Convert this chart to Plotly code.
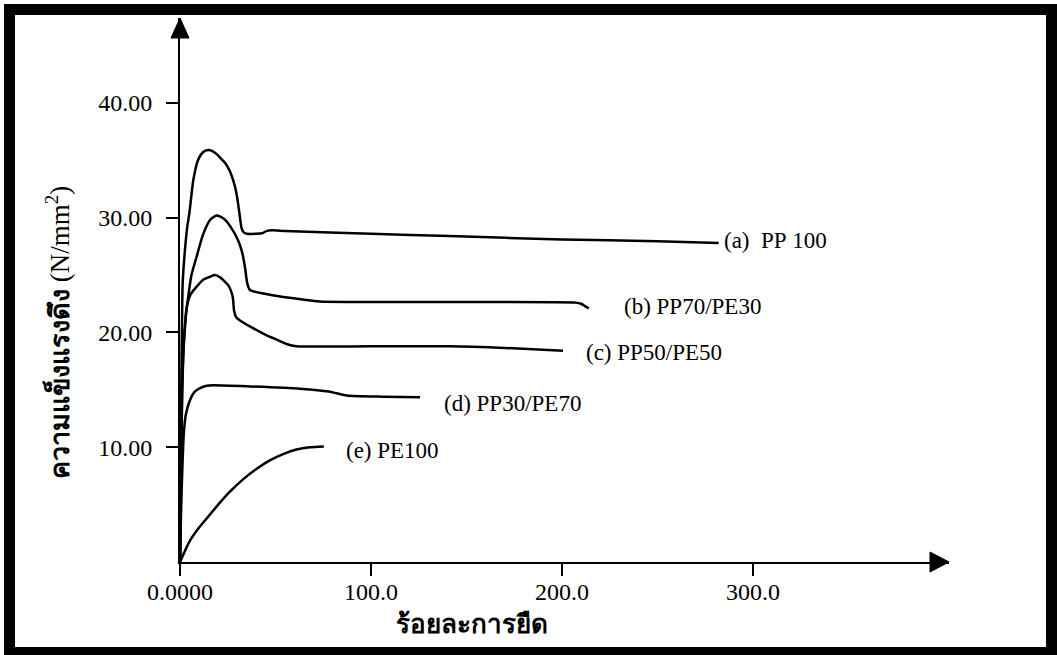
import plotly.graph_objects as go

# ---- data ----
x_a = [0, 0.3, 0.7, 1.0, 1.4, 2.6, 3.8, 4.9, 7.0, 9.4, 12, 14.8, 17, 19.5, 22, 23.5, 25, 26.5, 28.8, 30.0, 31.1, 32.3, 33.5, 35, 40, 43, 45.5, 48, 55, 100, 141, 200, 250, 282]
y_a = [0, 8, 16, 20, 24.3, 27.2, 29.2, 30.4, 33.3, 35.0, 35.7, 35.9, 35.8, 35.5, 35.05, 34.8, 34.4, 33.9, 32.7, 31.7, 30.4, 29.05, 28.7, 28.6, 28.6, 28.65, 28.85, 28.9, 28.85, 28.6, 28.4, 28.1, 27.95, 27.8]

x_b = [0, 0.4, 1.0, 1.8, 3.0, 4.3, 6.0, 8.7, 12, 15.7, 19.2, 23, 26.5, 30.5, 32.5, 34, 35.2, 36.6, 45, 54, 65, 73, 141, 207, 210, 212, 214]
y_b = [0, 7, 14, 18.5, 21.3, 23.1, 25, 26.6, 28.5, 29.8, 30.2, 29.9, 29.2, 28.0, 27.0, 25.7, 24.3, 23.7, 23.35, 23.1, 22.85, 22.7, 22.65, 22.6, 22.5, 22.3, 22.1]

x_c = [0, 0.5, 1.2, 2.0, 3.5, 5.5, 8.7, 12.2, 15.7, 18.3, 21, 25.3, 27.6, 28.3, 29.5, 31.4, 38, 45.4, 51, 55.8, 61, 100, 141, 170, 200.5]
y_c = [0, 8, 15, 19, 22.2, 23.3, 24.0, 24.6, 24.85, 25.0, 24.8, 24.1, 23.1, 21.9, 21.3, 21.05, 20.4, 19.75, 19.35, 19.0, 18.8, 18.8, 18.8, 18.65, 18.4]

x_d = [0, 0.5, 1.2, 2.0, 3.0, 5.2, 7.5, 10.5, 14, 17.5, 36.6, 62.8, 78, 82, 87.3, 106.4, 125.7]
y_d = [0, 4, 8, 11.2, 12.8, 14.1, 14.8, 15.15, 15.35, 15.4, 15.3, 15.1, 14.85, 14.7, 14.5, 14.4, 14.35]

x_e = [0, 2, 5, 10, 15, 20, 26, 33, 40, 47, 54, 61, 68, 75.3]
y_e = [0, 0.75, 1.8, 3.0, 4.0, 5.0, 6.1, 7.2, 8.1, 8.85, 9.4, 9.8, 10.0, 10.07]

series_labels = ["(a)\u00a0 PP\u00a0100", "(b) PP70/PE30", "(c) PP50/PE50", "(d) PP30/PE70", "(e) PE100"]
label_shift_x = [3, 33, 21, 22, 20]
label_shift_y = [2, 2, -2, -6, -4]

x_tickvals = [0, 100, 200, 300]
x_ticktext = ["0.0000", "100.0", "200.0", "300.0"]
y_tickvals = [10, 20, 30, 40]
y_ticktext = ["10.00", "20.00", "30.00", "40.00"]

x_title = "<b>ร้อยละการยืด</b>"
y_title = "<b>ความแข็งแรงดึง</b> (N/mm<sup>2</sup>)"

# ---- layout geometry ----
W, H = 1057, 655
L, R, T, B = 180, 108, 18, 93
PW, PH = W - L - R, H - T - B

def px(xp):
    return (xp - L) / PW

def py(yp):
    return (H - B - yp) / PH

SERIF = "Liberation Serif, Times New Roman, serif"

fig = go.Figure()
xs = [x_a, x_b, x_c, x_d, x_e]
ys = [y_a, y_b, y_c, y_d, y_e]
for xv, yv, name in zip(xs, ys, series_labels):
    fig.add_trace(go.Scatter(x=xv, y=yv, mode="lines", name=name,
                             line=dict(color="black", width=2.5, shape="spline", smoothing=0.6),
                             showlegend=False, hoverinfo="skip"))

annotations = []
for xv, yv, name, sx, sy in zip(xs, ys, series_labels, label_shift_x, label_shift_y):
    annotations.append(dict(x=xv[-1], y=yv[-1], xref="x", yref="y", text=name,
                            showarrow=False, xanchor="left", yanchor="middle",
                            xshift=sx, yshift=sy,
                            font=dict(family=SERIF, size=23, color="black")))

annotations.append(dict(x=px(472), y=py(624), xref="paper", yref="paper", text=x_title,
                        showarrow=False, xanchor="center", yanchor="middle",
                        font=dict(family=SERIF, size=26, color="black")))
annotations.append(dict(x=px(58), y=py(333), xref="paper", yref="paper", text=y_title,
                        showarrow=False, xanchor="center", yanchor="middle", textangle=-90,
                        font=dict(family=SERIF, size=27, color="black")))

shapes = [
    # outer black frame
    dict(type="rect", xref="paper", yref="paper",
         x0=px(9.5), x1=px(1051.5), y0=py(652.5), y1=py(9.5),
         line=dict(color="black", width=11), fillcolor="rgba(0,0,0,0)", layer="above"),
    # y-axis arrow head
    dict(type="path", xref="paper", yref="paper", xsizemode="pixel", ysizemode="pixel",
         xanchor=0, yanchor=1, path="M -9,-20 L 9,-20 L 0,0 Z",
         fillcolor="black", line=dict(color="black", width=1)),
    # x-axis arrow head
    dict(type="path", xref="paper", yref="paper", xsizemode="pixel", ysizemode="pixel",
         xanchor=1, yanchor=0, path="M -19,10 L -19,-10 L 0,0 Z",
         fillcolor="black", line=dict(color="black", width=1)),
]

axis_common = dict(showline=True, linecolor="black", linewidth=2, ticks="outside",
                   ticklen=12, tickwidth=2, tickcolor="black", showgrid=False,
                   zeroline=False, tickfont=dict(family=SERIF, size=24, color="black"),
                   fixedrange=True)

fig.update_layout(
    width=W, height=H, autosize=False,
    margin=dict(l=L, r=R, t=T, b=B, pad=0),
    paper_bgcolor="white", plot_bgcolor="white",
    xaxis=dict(range=[0, 402.6], tickvals=x_tickvals, ticktext=x_ticktext,
               ticklabelstandoff=-5, **axis_common),
    yaxis=dict(range=[0, 47.4], tickvals=y_tickvals, ticktext=y_ticktext,
               ticklabelstandoff=9, **axis_common),
    annotations=annotations,
    shapes=shapes,
)

fig.write_html("out.html")
